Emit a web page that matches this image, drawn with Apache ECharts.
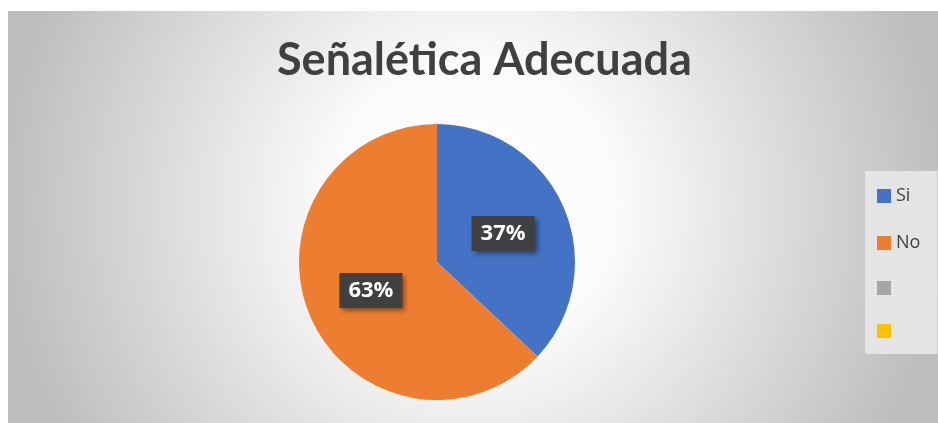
<!DOCTYPE html>
<html>
<head>
<meta charset="utf-8">
<script src="https://cdn.jsdelivr.net/npm/echarts@6/dist/echarts.min.js"></script>
<style>
  html, body { margin: 0; padding: 0; background: #ffffff; }
  #chart { position: absolute; left: 8px; top: 11px; width: 930px; height: 412px; }
</style>
</head>
<body>
<div id="chart"></div>
<script>
// datos del gráfico
const categories = ['Si', 'No', '', ''];
const values = [37, 63, 0, 0];
const colors = ['#4472C4', '#ED7D31', '#A5A5A5', '#FFC000'];

// nombres internos únicos para la leyenda
const ids = categories.map((c, i) => 'serie' + i);

const chart = echarts.init(document.getElementById('chart'));

chart.setOption({
  backgroundColor: {
    type: 'radial', x: 0.5, y: 0.47, r: 1.15,
    colorStops: [
      { offset: 0, color: '#ffffff' },
      { offset: 0.3, color: '#fbfbfb' },
      { offset: 1, color: '#bdbdbd' }
    ]
  },
  title: {
    text: 'Señalética Adecuada',
    left: 264,
    top: 22,
    textStyle: { fontFamily: 'Lato', fontWeight: 'bold', fontSize: 45, color: '#404040' }
  },
  legend: {
    orient: 'vertical',
    left: 857,
    top: 160,
    backgroundColor: '#e4e4e4',
    padding: [16, 17, 16, 12],
    itemWidth: 14,
    itemHeight: 14,
    itemGap: 29,
    icon: 'rect',
    data: ids,
    formatter: name => categories[ids.indexOf(name)],
    textStyle: { fontFamily: 'Open Sans', fontSize: 18, color: '#404040' }
  },
  series: [{
    type: 'pie',
    center: [429, 251],
    radius: 138,
    startAngle: 90,
    clockwise: true,
    avoidLabelOverlap: false,
    emphasis: { disabled: true },
    label: {
      show: true,
      position: 'inside',
      formatter: '{d}%',
      fontFamily: 'Open Sans',
      fontWeight: 'bold',
      fontSize: 22,
      color: '#ffffff',
      backgroundColor: '#404040',
      padding: [7, 9, 6, 9],
      shadowColor: 'rgba(0,0,0,0.45)',
      shadowBlur: 5,
      shadowOffsetX: 3,
      shadowOffsetY: 3
    },
    data: ids.map((id, i) => ({
      name: id,
      value: values[i],
      itemStyle: { color: colors[i] },
      label: { show: values[i] > 0 }
    }))
  }]
});
</script>
</body>
</html>
